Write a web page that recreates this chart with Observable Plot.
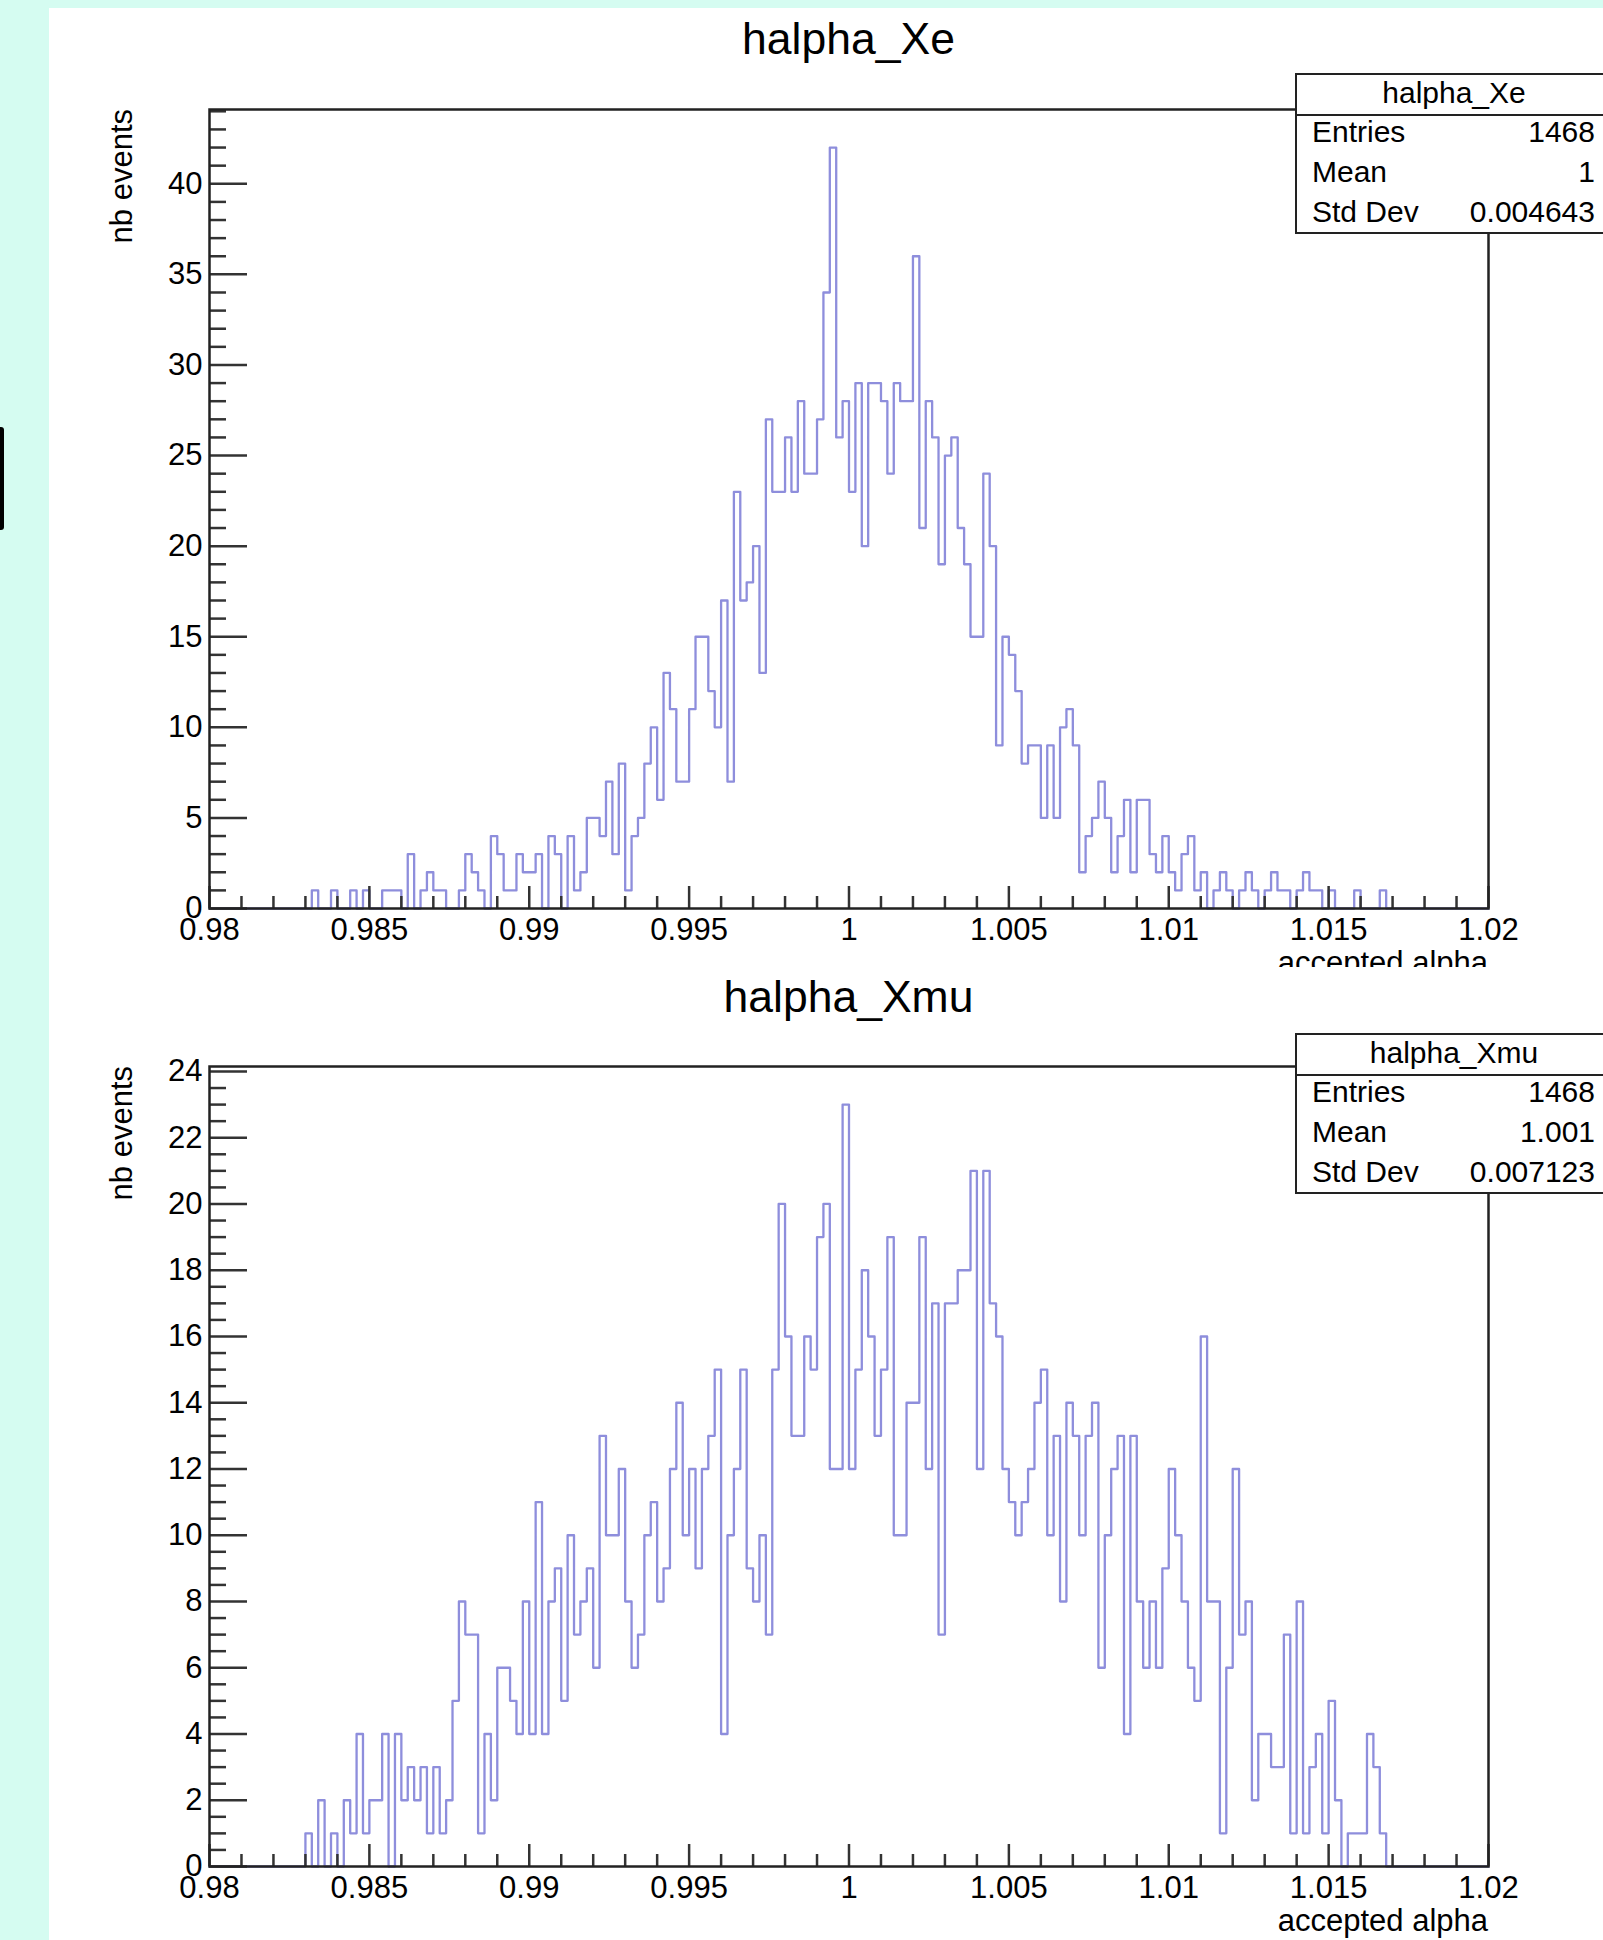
<!DOCTYPE html>
<html><head><meta charset="utf-8">
<script src="https://cdn.jsdelivr.net/npm/d3@7"></script>
<script src="https://cdn.jsdelivr.net/npm/@observablehq/plot@0.6"></script>
<style>
html,body{margin:0;padding:0;}
body{width:1603px;height:1940px;background:#d5fcf1;position:relative;overflow:hidden;font-family:"Liberation Sans",Arial,Helvetica,sans-serif;}
#panel{position:absolute;left:49px;top:8px;width:1554px;height:1932px;background:#fff;}
.pad{position:absolute;left:49px;width:1554px;}
.pad svg{display:block;overflow:hidden;}
.title{position:absolute;left:848.5px;font-size:44.5px;line-height:1;color:#000;white-space:nowrap;transform:translateX(-50%);}
.stats{position:absolute;left:1295px;width:318px;height:161px;border:2px solid #222;background:#fff;box-sizing:border-box;}
.stats .hdr{position:absolute;left:0;right:0;top:0;height:39px;border-bottom:2px solid #222;}
.stats div.t{position:absolute;font-size:30px;line-height:1;white-space:nowrap;color:#000;}
#bracket{position:absolute;left:0;top:427px;width:4px;height:103px;background:#000;border-radius:0 3px 3px 0;}
</style>
</head><body>
<div id="panel"></div>
<div id="bracket"></div>
<div class="pad" id="pad1" style="top:8px"></div>
<div class="pad" id="pad2" style="top:967px"></div>
<div class="title" style="top:16.8px">halpha_Xe</div>
<div class="title" style="top:974.5px">halpha_Xmu</div>
<div id="stats1"></div>
<div id="stats2"></div>
<script>
// ---- data ----
const binLo = 0.98, binHi = 1.02;
const xeCounts = [
0,0,0,0,0,0,0,0,0,0,
0,0,0,0,0,0,1,0,0,1,
0,0,1,0,1,0,0,1,1,1,
0,3,0,1,2,1,1,0,0,1,
3,2,1,0,4,3,1,1,3,2,
2,3,0,4,3,0,4,1,2,5,
5,4,7,3,8,1,4,5,8,10,
6,13,11,7,7,11,15,15,12,10,
17,7,23,17,18,20,13,27,23,23,
26,23,28,24,24,27,34,42,26,28,
23,29,20,29,29,28,24,29,28,28,
36,21,28,26,19,25,26,21,19,15,
15,24,20,9,15,14,12,8,9,9,
5,9,5,10,11,9,2,4,5,7,
5,2,4,6,2,6,6,3,2,4,
2,1,3,4,1,2,0,1,2,1,
0,1,2,1,0,1,2,1,1,0,
1,2,1,1,0,1,0,0,0,1,
0,0,0,1,0,0,0,0,0,0,
0,0,0,0,0,0,0,0,0,0];
const xmuCounts = [
0,0,0,0,0,0,0,0,0,0,
0,0,0,0,0,1,0,2,0,1,
0,2,1,4,1,2,2,4,0,4,
2,3,2,3,1,3,1,2,5,8,
7,7,1,4,2,6,6,5,4,8,
4,11,4,8,9,5,10,7,8,9,
6,13,10,10,12,8,6,7,10,11,
8,9,12,14,10,12,9,12,13,15,
4,10,12,15,9,8,10,7,15,20,
16,13,13,16,15,19,20,12,12,23,
12,15,18,16,13,15,19,10,10,14,
14,19,12,17,7,17,17,18,18,21,
12,21,17,16,12,11,10,11,12,14,
15,10,13,8,14,13,10,13,14,6,
10,12,13,4,13,8,6,8,6,9,
12,10,8,6,5,16,8,8,1,6,
12,7,8,2,4,4,3,3,7,1,
8,1,3,4,1,5,2,0,1,1,
1,4,3,1,0,0,0,0,0,0,
0,0,0,0,0,0,0,0,0,0];
const xTickValues = [0.98,0.985,0.99,0.995,1,1.005,1.01,1.015,1.02];
const xTickLabels = ["0.98","0.985","0.99","0.995","1","1.005","1.01","1.015","1.02"];
const xeYTicks = [0,5,10,15,20,25,30,35,40];
const xmuYTicks = [0,2,4,6,8,10,12,14,16,18,20,22,24];
const xeStatsLabels = ["Entries","Mean","Std Dev"];
const xeStatsValues = ["1468","1","0.004643"];
const xmuStatsLabels = ["Entries","Mean","Std Dev"];
const xmuStatsValues = ["1468","1.001","0.007123"];
const xTitle = "accepted alpha", yTitle = "nb events";

// ---- styles ----
const lineColor = "#8e8edc";
const axisColor = "#333";
const FONT = "Liberation Sans, Arial, Helvetica, sans-serif";

function buildPad(el, cfg){
  const W = 1554, H = cfg.height, mL = 160, mR = 115, mT = cfg.mTop, mB = cfg.mBottom;
  const innerW = W - mL - mR, innerH = H - mT - mB;
  const xPerPx = (binHi - binLo) / innerW, yPerPx = cfg.yMax / innerH;
  const n = cfg.counts.length, bw = (binHi - binLo) / n;
  const pts = cfg.counts.map((v, i) => ({x: binLo + i * bw, y: v}));
  pts.push({x: binHi, y: cfg.counts[n - 1]});
  const xMinor = d3.range(0, 41).map(k => +(binLo + k * 0.001).toFixed(4)).filter((v, k) => k % 5 !== 0);
  const yMinor = d3.range(0, cfg.yMax, cfg.minorStep).filter(v => !cfg.yTicks.includes(v));
  const svg = Plot.plot({
    width: W, height: H, marginLeft: mL, marginRight: mR, marginTop: mT, marginBottom: mB,
    x: {domain: [binLo, binHi], axis: null},
    y: {domain: [0, cfg.yMax], axis: null},
    style: {background: "transparent", fontFamily: FONT, overflow: "hidden"},
    marks: [
      Plot.line(pts, {x: "x", y: "y", curve: "step-after", stroke: lineColor, strokeWidth: 2.3}),
      Plot.ruleX(xMinor, {x: d => d, y1: 0, y2: 12 * yPerPx, stroke: axisColor, strokeWidth: 2.5}),
      Plot.ruleX(xTickValues, {x: d => d, y1: 0, y2: 22 * yPerPx, stroke: axisColor, strokeWidth: 2.5}),
      Plot.ruleY(yMinor, {y: d => d, x1: binLo, x2: binLo + 17 * xPerPx, stroke: axisColor, strokeWidth: 2.5}),
      Plot.ruleY(cfg.yTicks, {y: d => d, x1: binLo, x2: binLo + 38 * xPerPx, stroke: axisColor, strokeWidth: 2.5}),
      Plot.frame({stroke: "#222", strokeWidth: 2.5}),
      Plot.text(xTickValues, {x: d => d, text: (d, i) => xTickLabels[i], frameAnchor: "bottom", dy: 31, lineAnchor: "bottom", fontSize: 31, fill: "#000"}),
      Plot.text(cfg.yTicks, {y: d => d, text: d => String(d), frameAnchor: "left", textAnchor: "end", dx: -7, fontSize: 31, fill: "#000"})
    ]
  });
  const s = d3.select(svg);
  s.append("text").attr("transform", `translate(83,${mT}) rotate(-90)`).attr("text-anchor", "end")
    .attr("font-size", 31).attr("fill", "#000").text(yTitle);
  s.append("text").attr("x", mL + innerW).attr("y", H - mB + 65).attr("text-anchor", "end")
    .attr("font-size", 31).attr("fill", "#000").text(xTitle);
  el.appendChild(svg);
}

buildPad(document.getElementById("pad1"), {counts: xeCounts, yMax: 44.1, height: 959, mTop: 101, mBottom: 59, yTicks: xeYTicks, minorStep: 1});
buildPad(document.getElementById("pad2"), {counts: xmuCounts, yMax: 24.15, height: 973, mTop: 99, mBottom: 74, yTicks: xmuYTicks, minorStep: 0.5});

function buildStats(el, top, name, labels, values){
  const box = document.createElement("div");
  box.className = "stats"; box.style.top = top + "px";
  const hdr = document.createElement("div"); hdr.className = "hdr"; box.appendChild(hdr);
  const h = document.createElement("div"); h.className = "t"; h.textContent = name;
  h.style.left = "0"; h.style.width = "314px"; h.style.textAlign = "center"; h.style.top = "3px";
  box.appendChild(h);
  labels.forEach((lab, i) => {
    const a = document.createElement("div"); a.className = "t"; a.textContent = lab;
    a.style.left = "15px"; a.style.top = (42 + i * 40) + "px"; box.appendChild(a);
    const b = document.createElement("div"); b.className = "t"; b.textContent = values[i];
    b.style.right = "16px"; b.style.top = (42 + i * 40) + "px"; box.appendChild(b);
  });
  el.appendChild(box);
}
buildStats(document.getElementById("stats1"), 73, "halpha_Xe", xeStatsLabels, xeStatsValues);
buildStats(document.getElementById("stats2"), 1033, "halpha_Xmu", xmuStatsLabels, xmuStatsValues);
</script>
</body></html>
